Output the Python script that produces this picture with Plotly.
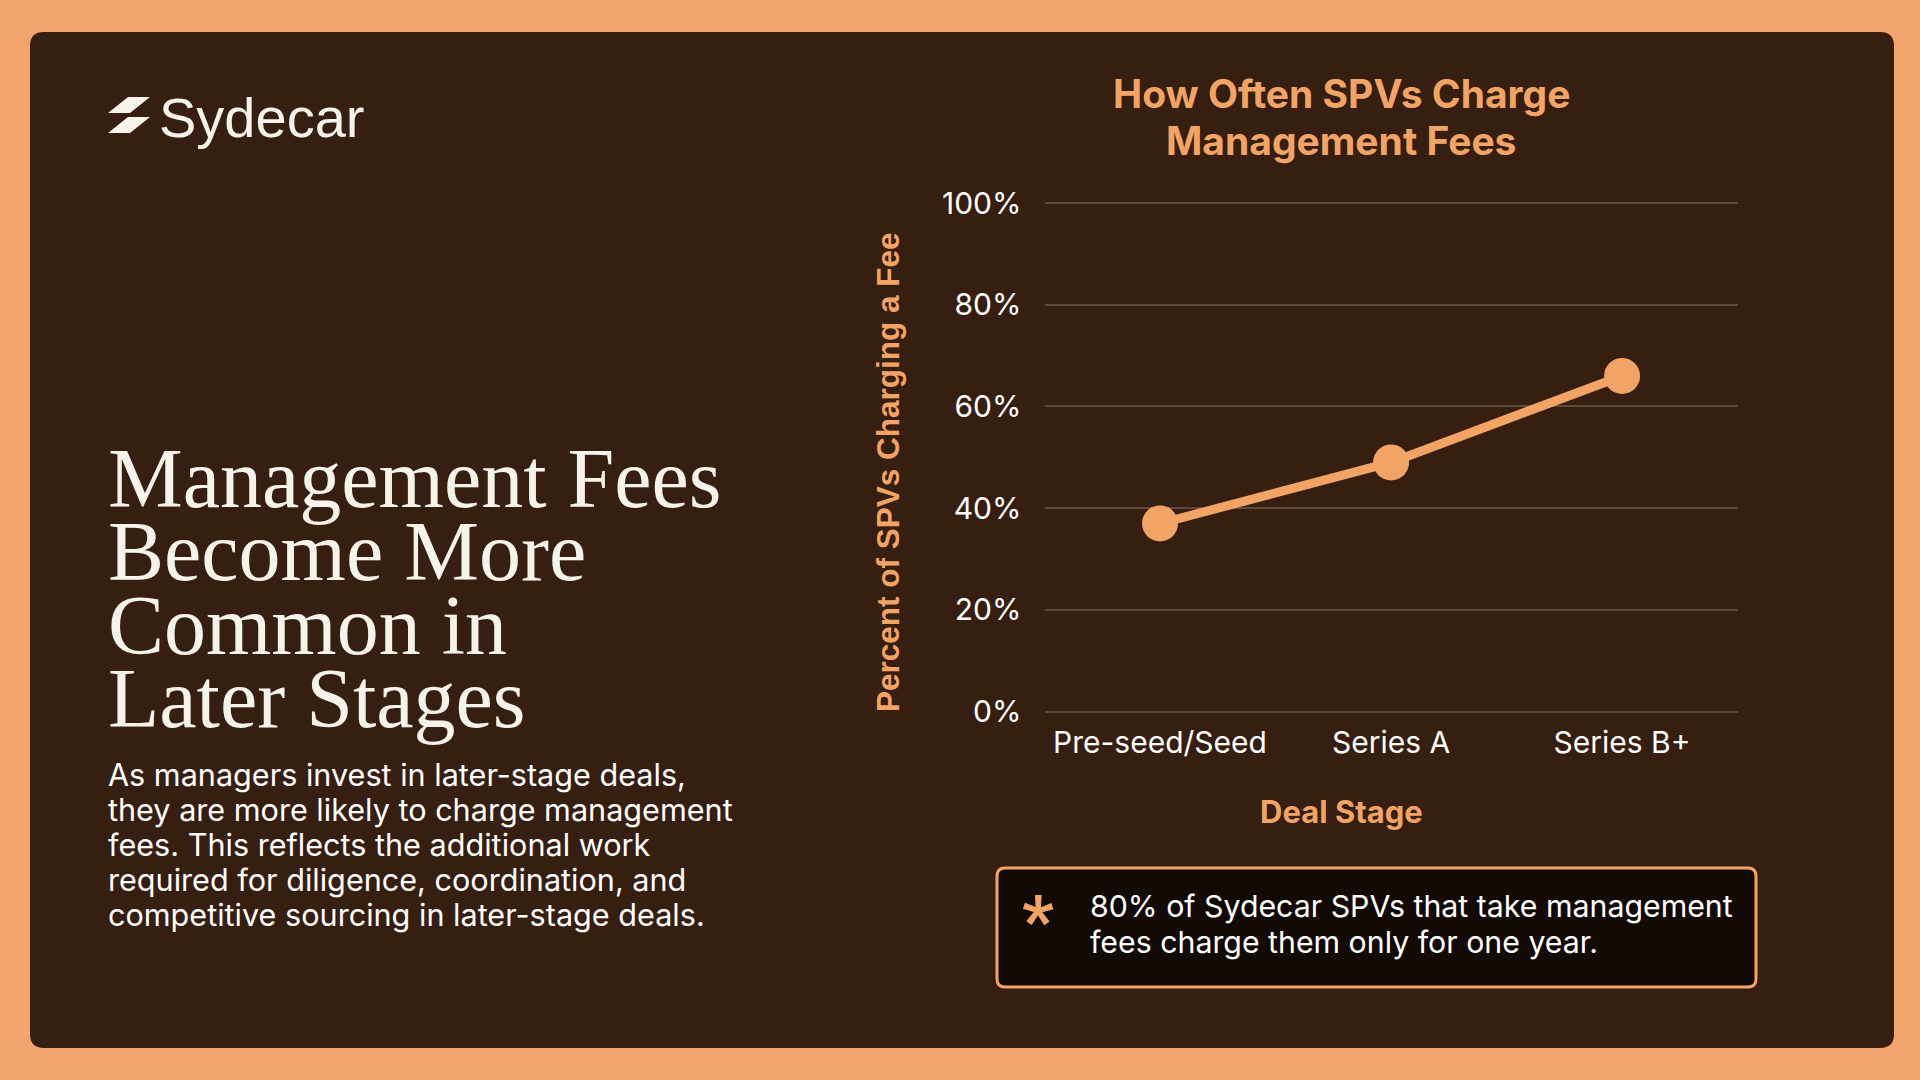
import plotly.graph_objects as go

# chart data
stages = ["Pre-seed/Seed", "Series A", "Series B+"]
pct_charging = [37, 49, 66]
y_ticks = [0, 20, 40, 60, 80, 100]
y_tick_labels = ["0%", "20%", "40%", "60%", "80%", "100%"]

chart_title = ["How Often SPVs Charge", "Management Fees"]
headline = ["Management Fees", "Become More", "Common in", "Later Stages"]
body = [
   "As managers invest in later-stage deals,",
   "they are more likely to charge management",
   "fees. This reflects the additional work",
   "required for diligence, coordination, and",
   "competitive sourcing in later-stage deals.",
]
callout = ["80% of Sydecar SPVs that take management", "fees charge them only for one year."]

W, H = 1920, 1080
ORANGE = "#F2A467"
PANEL = "#361E10"
WHITE = "#FFFFFF"
CREAM = "#F6F3EA"
SANS = "Inter"


def px(x):
   return x / W


def py(y):
   return 1 - y / H


def rrect(x0, y0, x1, y1, r):
   pts = [
      ("M", x0 + r, y0), ("L", x1 - r, y0), ("Q", x1, y0, x1, y0 + r),
      ("L", x1, y1 - r), ("Q", x1, y1, x1 - r, y1),
      ("L", x0 + r, y1), ("Q", x0, y1, x0, y1 - r),
      ("L", x0, y0 + r), ("Q", x0, y0, x0 + r, y0),
   ]
   out = []
   for p in pts:
      cmd, coords = p[0], p[1:]
      xy = []
      for i in range(0, len(coords), 2):
         xy.append(f"{px(coords[i]):.5f},{py(coords[i + 1]):.5f}")
      out.append(cmd + " " + " ".join(xy))
   return " ".join(out) + " Z"


def poly(points):
   s = " L ".join(f"{px(x):.5f},{py(y):.5f}" for x, y in points)
   return "M " + s + " Z"


fig = go.Figure()
fig.add_trace(go.Scatter(
   x=stages, y=pct_charging, mode="lines+markers",
   line=dict(color=ORANGE, width=9),
   marker=dict(color=ORANGE, size=36),
   cliponaxis=False, hoverinfo="skip",
))

shapes = [
   dict(type="path", xref="paper", yref="paper", path=rrect(30, 32, 1894, 1048, 14),
        fillcolor=PANEL, line=dict(width=0), layer="below"),
   dict(type="path", xref="paper", yref="paper", path=rrect(997, 868, 1756, 987, 8),
        fillcolor="#130A05", line=dict(color=ORANGE, width=3), layer="below"),
   # logo mark
   dict(type="path", xref="paper", yref="paper",
        path=poly([(128, 97), (150, 97), (130, 113), (108, 113)]),
        fillcolor=CREAM, line=dict(width=0)),
   dict(type="path", xref="paper", yref="paper",
        path=poly([(128, 117), (150, 117), (130, 133), (108, 133)]),
        fillcolor=CREAM, line=dict(width=0)),
]

ann = []
ann.append(dict(text="Sydecar", x=px(157), y=py(117), xanchor="left", yanchor="middle",
                font=dict(family="Liberation Sans", size=56, color=CREAM)))
for i, t in enumerate(headline):
   ann.append(dict(text=t, x=px(106), y=py(478 + i * 73.5), xanchor="left", yanchor="middle",
                   font=dict(family="Liberation Serif", size=84, color=CREAM)))
for i, t in enumerate(body):
   ann.append(dict(text=t, x=px(106), y=py(774 + i * 35), xanchor="left", yanchor="middle",
                   font=dict(family=SANS, size=30.6, color=WHITE)))
for i, t in enumerate(chart_title):
   ann.append(dict(text="<b>" + t + "</b>", x=px(1341), y=py(94 + i * 47), xanchor="center",
                   yanchor="middle", font=dict(family=SANS, size=39, color=ORANGE)))
ann.append(dict(text="<b>Deal Stage</b>", x=px(1341), y=py(811), xanchor="center", yanchor="middle",
                font=dict(family=SANS, size=31, color=ORANGE)))
ann.append(dict(text="<b>Percent of SPVs Charging a Fee</b>", x=px(888), y=py(472), textangle=-90,
                xanchor="center", yanchor="middle",
                font=dict(family="Liberation Sans", size=31.5, color=ORANGE)))
ann.append(dict(text="<b>*</b>", x=px(1038), y=py(921), xanchor="center", yanchor="middle",
                font=dict(family="Roboto", size=70, color=ORANGE)))
for i, t in enumerate(callout):
   ann.append(dict(text=t, x=px(1088), y=py(906 + i * 36), xanchor="left", yanchor="middle",
                   font=dict(family=SANS, size=30.3, color=WHITE)))
for a in ann:
   a.update(xref="paper", yref="paper", showarrow=False)

# pixel rows of the 0% and 100% gridlines, padded a little so both lines are drawn
y_lo, y_hi = -1, 101
unit = (711.7 - 203) / 100

fig.update_layout(
   width=W, height=H, margin=dict(l=0, r=0, t=0, b=0, autoexpand=False),
   paper_bgcolor="#F3A56E", plot_bgcolor="rgba(0,0,0,0)",
   showlegend=False, shapes=shapes, annotations=ann,
   xaxis=dict(domain=[px(1044.5), px(1737.6)], range=[-0.5, 2.5], showgrid=False,
              zeroline=False, showline=False, ticks="", ticklabelstandoff=5, automargin=False,
              tickfont=dict(family=SANS, size=30, color=WHITE)),
   yaxis=dict(domain=[py(711.7 - y_lo * unit), py(711.7 - y_hi * unit)], range=[y_lo, y_hi],
              tickvals=y_ticks, ticktext=y_tick_labels, showgrid=True, gridcolor="#5E4A3B",
              gridwidth=1.5, zeroline=False, showline=False, ticks="", ticklabelstandoff=22,
              automargin=False, tickfont=dict(family=SANS, size=30, color=WHITE)),
)

fig.write_html("out.html", config={"displayModeBar": False},
               post_script="document.body.style.margin='0';document.body.style.overflow='hidden';")
